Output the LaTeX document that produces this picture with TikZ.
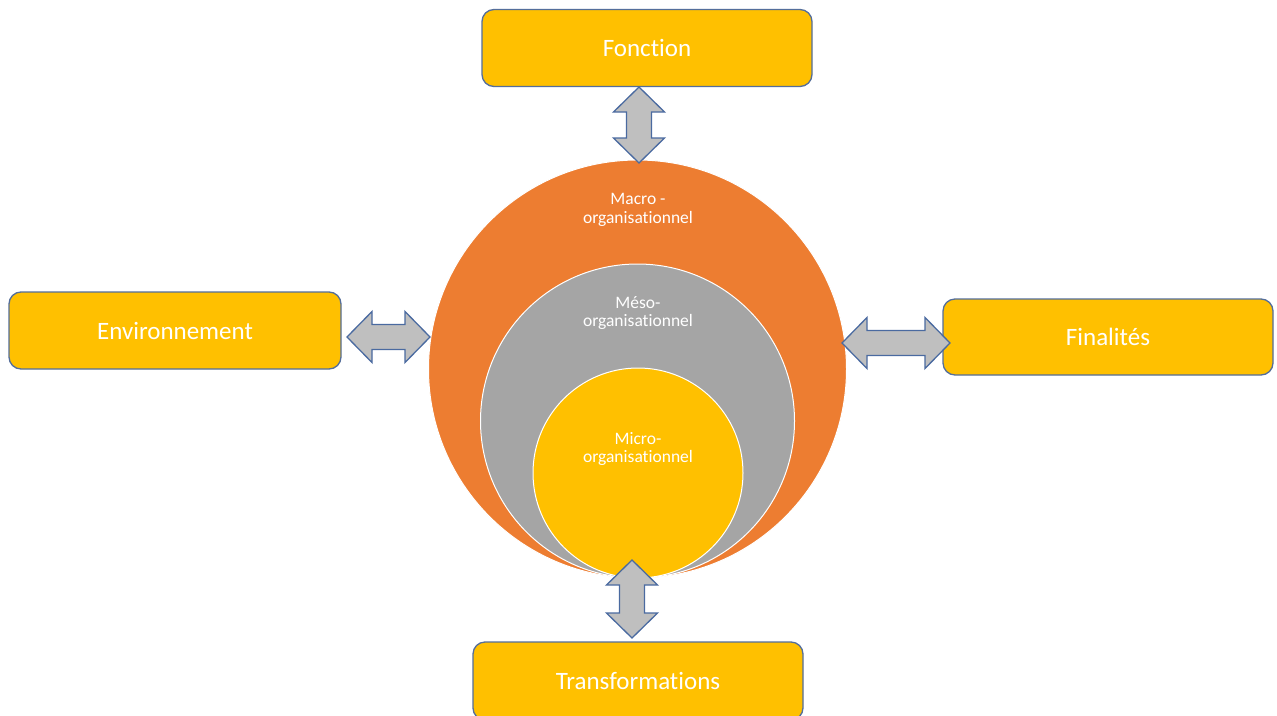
\documentclass[tikz,border=0pt]{standalone}
\usepackage{fontspec}
\setmainfont{Carlito}[Ligatures=NoCommon]
\usetikzlibrary{calc}
\definecolor{boxfill}{HTML}{FFC000}
\definecolor{boxline}{RGB}{84,110,155}
\definecolor{orng}{HTML}{ED7D31}
\definecolor{greyc}{HTML}{A5A5A5}
\definecolor{arrfill}{HTML}{BFBFBF}
\definecolor{arrline}{RGB}{74,106,160}
\newcommand\dblarr[2]{%
  \coordinate (ha) at ($(#1)!25pt!(#2)$);
  \coordinate (hb) at ($(#2)!25pt!(#1)$);
  \draw[arrowsty] (#1) -- ($(ha)!25.5pt!90:(#2)$) -- ($(ha)!12.5pt!90:(#2)$)
    -- ($(hb)!12.5pt!-90:(#1)$) -- ($(hb)!25.5pt!-90:(#1)$) -- (#2)
    -- ($(hb)!25.5pt!90:(#1)$) -- ($(hb)!12.5pt!90:(#1)$)
    -- ($(ha)!12.5pt!-90:(#2)$) -- ($(ha)!25.5pt!-90:(#2)$) -- cycle;}
\tikzset{
  box/.style={rectangle, rounded corners=12pt, fill=boxfill, draw=boxline,
    line width=1.3pt, text=white, font=\fontsize{25}{30}\selectfont,
    inner sep=0pt, minimum width=330pt, minimum height=77pt},
  ring/.style={circle, draw=white, line width=1pt, inner sep=0pt},
  ctext/.style={text=white, align=center, font=\fontsize{17.5}{18.5}\selectfont, inner sep=0pt},
  arrowsty/.style={fill=arrfill, draw=arrline, line width=1.3pt, line join=miter}
}
\begin{document}
\begin{tikzpicture}[x=1pt,y=-1pt]
\useasboundingbox (0,0) rectangle (1277,715);
\fill[white] (0,0) rectangle (1277,715);
% boxes
\node[box] (fonction) at (647,48) {Fonction};
\node[box, minimum width=332pt] (env) at (175,330.5) {Environnement};
\node[box, minimum height=76pt] (fin) at (1108,337) {Finalités};
\node[box, minimum height=78pt] (trans) at (638,681) {Transformations};
% circles
\node[ring, fill=orng, minimum size=418pt] (macro) at (637.5,369) {};
\node[ring, fill=greyc, minimum size=314pt] (meso) at (637.5,421) {};
\node[ring, fill=boxfill, minimum size=210pt] (micro) at (638,473) {};
\node[ctext] (macrotxt) at (638,210) {Macro -\\organisationnel};
\node[ctext] (mesotxt) at (638,313) {Méso-\\organisationnel};
\node[ctext] (microtxt) at (638,449) {Micro-\\organisationnel};
% arrows
\coordinate (tA) at (639,87);  \coordinate (tB) at (639,163);
\coordinate (lA) at (347,337); \coordinate (lB) at (430,337);
\coordinate (rA) at (842,343); \coordinate (rB) at (950,343);
\coordinate (bA) at (632,560); \coordinate (bB) at (632,638);
\dblarr{tA}{tB}
\dblarr{lA}{lB}
\dblarr{rA}{rB}
\dblarr{bA}{bB}
\end{tikzpicture}
\end{document}
